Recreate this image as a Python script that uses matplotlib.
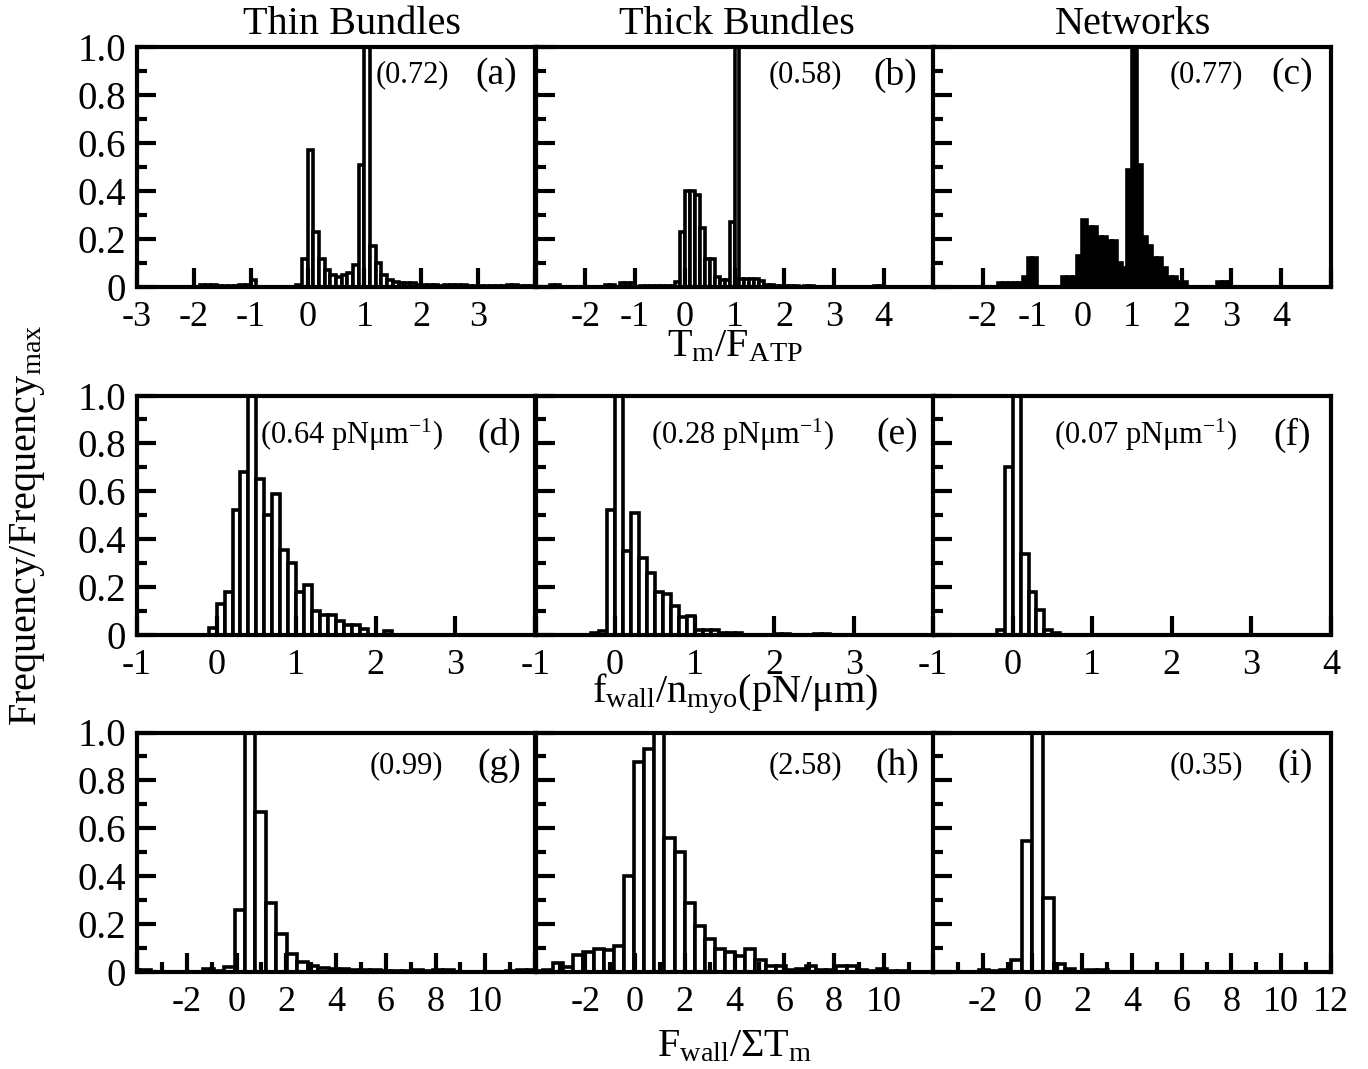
import numpy as np
import matplotlib
matplotlib.use("Agg")
import matplotlib.pyplot as plt
from matplotlib.ticker import MultipleLocator

plt.rcParams['font.family'] = ['Liberation Serif', 'DejaVu Serif']
plt.rcParams['mathtext.fontset'] = 'custom'
plt.rcParams['mathtext.rm'] = 'Liberation Serif'
plt.rcParams['mathtext.it'] = 'Liberation Serif:italic'
plt.rcParams['axes.unicode_minus'] = False

# column headers and per-panel annotations
col_titles = ["Thin Bundles", "Thick Bundles", "Networks"]
letters = ["(a)", "(b)", "(c)", "(d)", "(e)", "(f)", "(g)", "(h)", "(i)"]
means = ["(0.72)", "(0.58)", "(0.77)",
         "(0.64 pNμm$^{-1}$)", "(0.28 pNμm$^{-1}$)", "(0.07 pNμm$^{-1}$)",
         "(0.99)", "(2.58)", "(0.35)"]
row_xlabels = [r"T$_\mathrm{m}$/F$_\mathrm{ATP}$",
               r"f$_\mathrm{wall}$/n$_\mathrm{myo}$(pN/μm)",
               r"F$_\mathrm{wall}$/ΣT$_\mathrm{m}$"]

# ---- histograms: first bin edge, bin width, normalised heights ----
# row 1: T_m / F_ATP
a_start, a_width = -3.0, 0.1
a_h = [0, 0, 0, 0, 0, 0, 0, 0, 0, 0,
       0, 0.01, 0.01, 0.01, 0.005, 0.005, 0.005, 0.005, 0.01, 0.01,
       0.03, 0, 0, 0, 0, 0, 0, 0, 0.01, 0.115,
       0.57, 0.23, 0.115, 0.07, 0.05, 0.04, 0.05, 0.06, 0.09, 0.51,
       1.0, 0.17, 0.10, 0.05, 0.03, 0.02, 0.015, 0.015, 0.015, 0.01,
       0.01, 0.01, 0.01, 0.005, 0.01, 0.01, 0.01, 0.01, 0.005, 0.005,
       0.005, 0.005, 0.005, 0.005, 0.005, 0.01, 0.01, 0.005, 0.005, 0.005]

b_start, b_width = -3.0, 0.1
b_h = [0, 0, 0, 0.01, 0.01, 0, 0, 0, 0, 0,
       0, 0, 0, 0, 0.01, 0.01, 0, 0.015, 0.015, 0.015,
       0, 0.005, 0.005, 0.005, 0.005, 0.005, 0.005, 0.005, 0.02, 0.23,
       0.40, 0.40, 0.385, 0.245, 0.115, 0.115, 0.04, 0.03, 0.03, 0.27,
       1.0, 0.035, 0.035, 0.035, 0.035, 0.025, 0.01, 0.01, 0.005, 0.005,
       0.005, 0.005, 0.005, 0, 0.005, 0.005, 0, 0, 0, 0,
       0, 0, 0, 0, 0, 0, 0, 0, 0.005, 0.005,
       0, 0, 0, 0, 0, 0, 0, 0, 0, 0]

c_start, c_width = -3.0, 0.1
c_h = [0, 0, 0, 0, 0, 0, 0, 0, 0, 0,
       0, 0, 0, 0.017, 0.017, 0.017, 0.017, 0.017, 0.04, 0.12,
       0.12, 0, 0, 0, 0, 0, 0.04, 0.04, 0.04, 0.13,
       0.28, 0.25, 0.25, 0.21, 0.21, 0.19, 0.19, 0.10, 0.08, 0.49,
       1.0, 0.51, 0.21, 0.17, 0.12, 0.12, 0.08, 0.04, 0.04, 0.02,
       0.02, 0, 0, 0, 0, 0, 0, 0.02, 0.02, 0.02,
       0, 0, 0, 0, 0, 0, 0, 0, 0, 0,
       0, 0, 0, 0, 0, 0, 0, 0, 0, 0]

# row 2: f_wall / n_myo
d_start, d_width = -1.0, 0.1
d_h = [0, 0, 0, 0, 0, 0, 0, 0, 0, 0.03,
       0.13, 0.18, 0.52, 0.68, 1.0, 0.65, 0.50, 0.59, 0.355, 0.30,
       0.18, 0.21, 0.10, 0.085, 0.085, 0.06, 0.04, 0.04, 0.025, 0,
       0, 0.015, 0, 0, 0, 0, 0, 0, 0, 0,
       0, 0, 0, 0, 0, 0, 0, 0, 0, 0]

e_start, e_width = -1.0, 0.1
e_h = [0, 0, 0, 0, 0, 0, 0, 0.01, 0.017, 0.52,
       1.0, 0.35, 0.51, 0.32, 0.26, 0.18, 0.17, 0.12, 0.077, 0.08,
       0.02, 0.02, 0.02, 0.01, 0.01, 0.01, 0, 0, 0, 0,
       0.005, 0.005, 0, 0, 0, 0.005, 0.005, 0, 0, 0,
       0, 0, 0, 0, 0, 0, 0, 0, 0, 0]

f_start, f_width = -1.0, 0.1
f_h = [0, 0, 0, 0, 0, 0, 0, 0, 0.02, 0.70,
       1.0, 0.34, 0.18, 0.105, 0.02, 0.007, 0, 0, 0, 0,
       0, 0, 0, 0, 0, 0, 0, 0, 0, 0,
       0, 0, 0, 0, 0, 0, 0, 0, 0, 0,
       0, 0, 0, 0, 0, 0, 0, 0, 0, 0]

# row 3: F_wall / sum T_m
g_start, g_width = -4.28, 0.42
g_h = [0.007, 0.007, 0, 0, 0, 0, 0, 0.014, 0.005, 0.02,
       0.26, 1.0, 0.67, 0.287, 0.157, 0.077, 0.042, 0.024, 0.018, 0.014,
       0.014, 0.01, 0.01, 0.01, 0.005, 0.005, 0.005, 0.01, 0.005, 0.01,
       0.007, 0, 0, 0, 0, 0, 0.005, 0.01, 0.01]

h_start, h_width = -4.11, 0.407
h_h = [0.004, 0.01, 0.038, 0.02, 0.07, 0.084, 0.098, 0.09, 0.108, 0.40,
       0.875, 0.93, 1.0, 0.56, 0.50, 0.287, 0.19, 0.136, 0.094, 0.084,
       0.066, 0.094, 0.052, 0.024, 0.024, 0.01, 0.014, 0.024, 0.01, 0.01,
       0.024, 0.024, 0.01, 0.005, 0.014, 0.005, 0.005, 0, 0, 0]

i_start, i_width = -4.334, 0.433
i_h = [0, 0, 0, 0, 0, 0.01, 0.006, 0.01, 0.052, 0.545,
       1.0, 0.31, 0.035, 0.012, 0, 0.007, 0.007, 0, 0, 0,
       0, 0, 0, 0, 0, 0, 0, 0, 0, 0,
       0, 0, 0, 0, 0, 0, 0, 0]

hists = [(a_start, a_width, a_h), (b_start, b_width, b_h), (c_start, c_width, c_h),
         (d_start, d_width, d_h), (e_start, e_width, e_h), (f_start, f_width, f_h),
         (g_start, g_width, g_h), (h_start, h_width, h_h), (i_start, i_width, i_h)]

# axis ranges and shown tick labels
xlims = [(-3, 4), (-3, 5), (-3, 5),
         (-1, 4), (-1, 4), (-1, 4),
         (-4, 12), (-4, 12), (-4, 12)]
shown = [[-3, -2, -1, 0, 1, 2, 3], [-2, -1, 0, 1, 2, 3, 4], [-2, -1, 0, 1, 2, 3, 4],
         [-1, 0, 1, 2, 3], [-1, 0, 1, 2, 3], [-1, 0, 1, 2, 3, 4],
         [-2, 0, 2, 4, 6, 8, 10], [-2, 0, 2, 4, 6, 8, 10], [-2, 0, 2, 4, 6, 8, 10, 12]]
ytick_vals = [0, 0.2, 0.4, 0.6, 0.8, 1.0]
ytick_text = ["0", "0.2", "0.4", "0.6", "0.8", "1.0"]

W, H = 1368, 1069
fig = plt.figure(figsize=(W / 100, H / 100), dpi=100)

col_left = [137, 535.5, 933]
col_w = 398
row_top = [47.5, 395.5, 732.5]
row_h = 239.5
letter_y = [0.885, 0.835, 0.86]
letter_x = [0.955, 0.958, 0.955, 0.965, 0.96, 0.95, 0.965, 0.965, 0.955]
mean_x = [0.785, 0.77, 0.78, 0.77, 0.75, 0.765, 0.77, 0.77, 0.78]

for n in range(9):
    r, c = divmod(n, 3)
    ax = fig.add_axes([col_left[c] / W, 1 - (row_top[r] + row_h) / H, col_w / W, row_h / H])
    start, width, heights = hists[n]
    heights = np.array(heights)
    lefts = start + width * np.arange(len(heights))
    face = "black" if n == 2 else "white"
    ax.bar(lefts, heights, width=width, align="edge", facecolor=face,
           edgecolor="black", linewidth=2.6)

    lo, hi = xlims[n]
    ax.set_xlim(lo, hi)
    ax.set_ylim(0, 1.0)
    step = 2 if r == 2 else 1
    ticks = list(range(lo, hi + 1, step))
    ax.set_xticks(ticks)
    ax.set_xticklabels([str(t) if t in shown[n] else "" for t in ticks])
    if r == 2:
        ax.xaxis.set_minor_locator(MultipleLocator(1))
    ax.set_yticks(ytick_vals)
    ax.yaxis.set_minor_locator(MultipleLocator(0.1))
    if c == 0:
        ax.set_yticklabels(ytick_text)
    else:
        ax.set_yticklabels([])

    for sp in ax.spines.values():
        sp.set_linewidth(3)
    ax.tick_params(axis="both", which="both", direction="in", top=False, right=False)
    ax.tick_params(axis="both", which="major", length=14, width=3)
    ax.tick_params(axis="both", which="minor", length=7, width=3)
    ax.tick_params(axis="x", which="major", labelsize=26, pad=10)
    ax.tick_params(axis="y", which="major", labelsize=28, pad=8)

    ax.text(letter_x[n], letter_y[r], letters[n], transform=ax.transAxes,
            ha="right", va="center", fontsize=27)
    ax.text(mean_x[n], letter_y[r], means[n], transform=ax.transAxes,
            ha="right", va="center", fontsize=22)

# column titles
title_x = [352, 737, 1133]
for c in range(3):
    fig.text(title_x[c] / W, 1 - 25 / H, col_titles[c], ha="center", va="center", fontsize=29)

# row x labels
xlabel_y = [347, 694, 1047]
for r in range(3):
    fig.text(735 / W, 1 - xlabel_y[r] / H, row_xlabels[r], ha="center", va="center", fontsize=29)

fig.text(28 / W, 1 - 525 / H, r"Frequency/Frequency$_\mathrm{max}$", rotation=90,
         ha="center", va="center", fontsize=29)

fig.savefig("out.png", dpi=100)
